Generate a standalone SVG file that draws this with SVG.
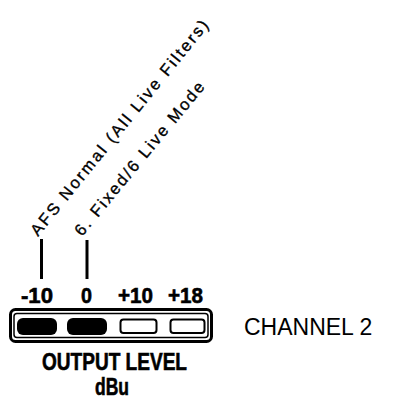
<svg xmlns="http://www.w3.org/2000/svg" width="398" height="400" viewBox="0 0 398 400">
<style>
.rot{font-family:"Liberation Sans",Arial,sans-serif;font-size:16.5px;fill:#000;stroke:#000;stroke-width:0.35}
.lvl{font-family:"Liberation Sans",Arial,sans-serif;font-size:22px;font-weight:bold;fill:#000;stroke:#000;stroke-width:0.6}
.cap{font-family:"Liberation Sans",Arial,sans-serif;font-size:24px;font-weight:bold;fill:#000;stroke:#000;stroke-width:0.6}
.ch{font-family:"Liberation Sans",Arial,sans-serif;font-size:23px;fill:#000}
.lead{stroke:#000;stroke-width:3;fill:none}
</style>
<rect width="398" height="400" fill="#fff"/>
<g id="connectors">
<line class="lead" x1="41.5" y1="239" x2="41.5" y2="279"/>
<line class="lead" x1="87" y1="240" x2="87" y2="279"/>
</g>
<g id="label-afs">
<text class="rot" transform="translate(38,237) rotate(-51)" textLength="272" lengthAdjust="spacing">AFS Normal (All Live Filters)</text>
</g>
<g id="label-fixed">
<text class="rot" transform="translate(82,237) rotate(-50.5)" textLength="194" lengthAdjust="spacing">6. Fixed/6 Live Mode</text>
</g>
<g id="scale">
<text class="lvl" x="21" y="303" textLength="32" lengthAdjust="spacingAndGlyphs">-10</text>
<text class="lvl" x="81" y="303" textLength="11" lengthAdjust="spacingAndGlyphs">0</text>
<text class="lvl" x="118" y="303" textLength="35" lengthAdjust="spacingAndGlyphs">+10</text>
<text class="lvl" x="168" y="303" textLength="35" lengthAdjust="spacingAndGlyphs">+18</text>
</g>
<g id="meter">
<rect x="10.5" y="309.5" width="201" height="32" rx="5" fill="#fff" stroke="#000" stroke-width="3"/>
<rect x="14" y="313.5" width="194" height="24" rx="3" fill="none" stroke="#000" stroke-width="1.5"/>
<rect x="17" y="318" width="40" height="17" rx="6" fill="#000"/>
<rect x="67" y="318" width="40" height="17" rx="6" fill="#000"/>
<rect x="120.5" y="319.5" width="36" height="13.5" rx="3" fill="#fff" stroke="#000" stroke-width="2"/>
<rect x="170.5" y="319.5" width="34" height="13.5" rx="3" fill="#fff" stroke="#000" stroke-width="2"/>
</g>
<g id="caption">
<text class="cap" x="42" y="370" textLength="145" lengthAdjust="spacingAndGlyphs">OUTPUT LEVEL</text>
<text class="cap" x="95" y="395" font-size="20" textLength="34" lengthAdjust="spacingAndGlyphs">dBu</text>
</g>
<g id="channel">
<text class="ch" x="244" y="335">CHANNEL 2</text>
</g>
</svg>
